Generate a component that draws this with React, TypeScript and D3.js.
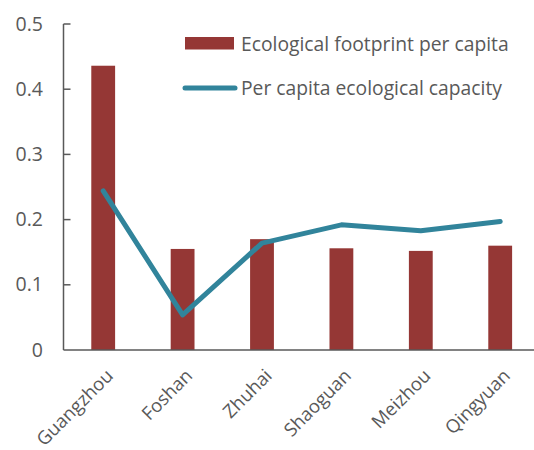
import React from "react";
import * as d3 from "d3";

const cities = ["Guangzhou", "Foshan", "Zhuhai", "Shaoguan", "Meizhou", "Qingyuan"];
const footprint = [0.436, 0.155, 0.17, 0.156, 0.152, 0.16];
const capacity = [0.244, 0.054, 0.164, 0.192, 0.183, 0.197];
const yTicks = [0, 0.1, 0.2, 0.3, 0.4, 0.5];
const legendLabels = ["Ecological footprint per capita", "Per capita ecological capacity"];

const W = 534;
const H = 450;
const left = 63.5;
const bottom = 350;
const top = 24;
const band = 79.4;

const FONT = "'Open Sans', sans-serif";
const TEXT = "#595959";
const BAR = "#953735";
const LINE = "#31849B";

export default function App() {
  const x = d3
    .scaleBand<string>()
    .domain(cities)
    .range([left, left + band * cities.length])
    .paddingInner(0)
    .paddingOuter(0);
  const y = d3.scaleLinear().domain([0, 0.5]).range([bottom, top]);
  const barW = x.bandwidth() * 0.3;
  const cx = (c: string) => (x(c) as number) + x.bandwidth() / 2;

  const line = d3
    .line<number>()
    .x((_, i) => cx(cities[i]))
    .y((d) => y(d));

  return (
    <div style={{ position: "absolute", left: 0, top: 0 }}>
      <svg width={W} height={H} style={{ display: "block", background: "#fff" }} fontFamily={FONT}>
        {/* bars */}
        {footprint.map((v, i) => (
          <rect
            key={cities[i]}
            x={cx(cities[i]) - barW / 2}
            y={y(v)}
            width={barW}
            height={y(0) - y(v)}
            fill={BAR}
          />
        ))}
        {/* capacity line */}
        <path
          d={line(capacity) || ""}
          fill="none"
          stroke={LINE}
          strokeWidth={5}
          strokeLinecap="round"
          strokeLinejoin="round"
        />
        {/* y axis */}
        <line x1={left} x2={left} y1={y(0.5)} y2={y(0)} stroke={TEXT} strokeWidth={1.5} />
        {yTicks.map((t) => (
          <g key={t}>
            {t > 0 && (
              <line x1={left} x2={left + 7} y1={y(t)} y2={y(t)} stroke={TEXT} strokeWidth={1.5} />
            )}
            <text
              x={43}
              y={y(t) - 1}
              textAnchor="end"
              dominantBaseline="central"
              fontSize={19.5}
              fill={TEXT}
            >
              {d3.format("")(t)}
            </text>
          </g>
        ))}
        {/* x axis */}
        <line x1={left} x2={W} y1={y(0)} y2={y(0)} stroke={TEXT} strokeWidth={1.5} />
        {cities.map((c) => (
          <text
            key={c}
            transform={`translate(${cx(c) + 11},${bottom + 27}) rotate(-45)`}
            textAnchor="end"
            fontSize={18.5}
            fill={TEXT}
          >
            {c}
          </text>
        ))}
        {/* legend */}
        <rect x={185} y={37} width={49} height={12.5} fill={BAR} />
        <text x={241} y={43} dominantBaseline="central" fontSize={19.3} fill={TEXT}>
          {legendLabels[0]}
        </text>
        <line x1={185} x2={235} y1={88} y2={88} stroke={LINE} strokeWidth={5} strokeLinecap="round" />
        <text x={241} y={87.5} dominantBaseline="central" fontSize={19.3} fill={TEXT}>
          {legendLabels[1]}
        </text>
      </svg>
    </div>
  );
}
